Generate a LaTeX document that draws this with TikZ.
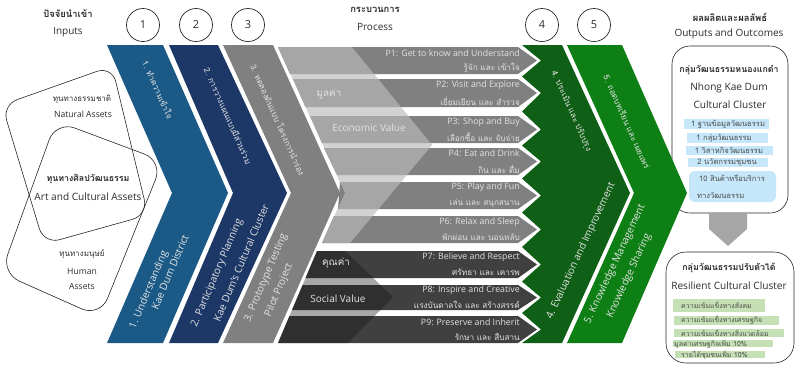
\documentclass[tikz,border=0pt]{standalone}
\usepackage{fontspec}
\setmainfont{Open Sans}[Scale=1]
\newfontfamily\thaif[Script=Thai]{Loma}
\definecolor{cblue}{HTML}{1B5A86}
\definecolor{cnavy}{HTML}{1D3767}
\definecolor{cgray}{HTML}{808080}
\definecolor{cdkgreen}{HTML}{0F5F16}
\definecolor{cgreen}{HTML}{0E7F14}
\definecolor{clabel}{HTML}{2B2B2B}
\definecolor{cpale}{HTML}{E2E2E2}
\definecolor{cbluebox}{HTML}{C6E7FA}
\definecolor{cgreenbox}{HTML}{C5E0B4}
\tikzset{
  outline/.style={draw=black!85,line width=0.6pt,rounded corners=#1},
  head/.style={font=\fontsize{10}{12}\selectfont,text=clabel,inner sep=0pt},
  headth/.style={font=\thaif\fontsize{9.4}{11}\selectfont\bfseries,text=clabel,inner sep=0pt},
  numc/.style={draw=black!85,line width=0.7pt,circle,minimum size=33pt,inner sep=0pt,font=\fontsize{11}{12}\selectfont,text=clabel},
  chevt/.style={font=\fontsize{10.2}{12}\selectfont,text=cpale,inner sep=0pt},
  chevth/.style={font=\thaif\fontsize{8.2}{10}\selectfont,text=cpale,inner sep=0pt},
  pen/.style={font=\fontsize{8.8}{10}\selectfont,text=cpale,anchor=east,inner sep=0pt},
  pth/.style={font=\thaif\fontsize{8.2}{10}\selectfont,text=cpale,anchor=east,inner sep=0pt},
  valen/.style={font=\fontsize{10}{12}\selectfont,text=cpale,inner sep=0pt},
  valth/.style={font=\thaif\fontsize{9.8}{12}\selectfont,text=cpale,inner sep=0pt},
  boxt/.style={font=\thaif\fontsize{7.6}{9}\selectfont,text=black!70,inner sep=0pt},
  boxg/.style={font=\thaif\fontsize{7}{9}\selectfont,text=black!70,inner sep=0pt,anchor=west},
  smen/.style={font=\fontsize{8.6}{10}\selectfont,text=clabel,inner sep=0pt},
  smth/.style={font=\thaif\fontsize{8}{10}\selectfont,text=clabel,inner sep=0pt},
  bigen/.style={font=\fontsize{10.1}{12}\selectfont,text=clabel,inner sep=0pt},
  bigth/.style={font=\thaif\fontsize{8.8}{10}\selectfont\bfseries,text=clabel,inner sep=0pt},
}
\begin{document}
\begin{tikzpicture}[x=1pt,y=-1pt]
\useasboundingbox (0,0) rectangle (795,368);
% --- input shapes
\draw[outline=16pt] (2,105) -- (112,66) -- (148,215) -- (44,244) -- cycle;
\draw[outline=20pt] (56,121) -- (163,161) -- (100,317) -- (1,273) -- cycle;
% --- output boxes (below the green chevron tip)
\draw[outline=18pt,fill=white] (672,46) rectangle (788,213);
\draw[outline=20pt,fill=white] (666,252) rectangle (794,363);
% --- chevrons
\fill[cblue] (107,45) -- (163,45) -- (228,193) -- (163,343) -- (107,343) -- (172,193) -- cycle;
\fill[cnavy] (169,45) -- (218,45) -- (287,193) -- (218,343) -- (169,343) -- (233,193) -- cycle;
\fill[cgray] (223,45) -- (273,45) -- (340,193) -- (273,343) -- (223,343) -- (291,193) -- cycle;
\fill[cdkgreen] (522,45) -- (562,45) -- (630,193) -- (562,343) -- (522,343)
  -- (541,329.5) -- (522,313) -- (541,297.5) -- (522,281.5) -- (541,264.5) -- (522,247)
  -- (541,229.5) -- (522,212.5) -- (541,195.5) -- (522,178.5) -- (541,161.5) -- (522,145.5)
  -- (541,129.5) -- (522,111.5) -- (541,93) -- (522,76.5) -- (541,60.5) -- cycle;
\fill[cgreen] (567,45) -- (622,45) -- (687,193) -- (622,343) -- (567,343) -- (634,193) -- cycle;
% --- process: pale backing of the two value chevrons
\fill[black!25] (278,47) -- (352,47) -- (432,145) -- (350,243) -- (322,243) -- (345,193) -- cycle;
\fill[black!12] (317,251) -- (345,251) -- (393,297) -- (348,343) -- (278,343) -- cycle;
% --- process bars
\foreach \t/\b/\l/\m/\lb/\c in {
  47/74/278/60.5/290/cgray, 79/107/293/93/305.5/cgray, 116/143/310/129.5/322/cgray,
  148/175/324/161.5/337/cgray, 182/209/340/195.5/338/cgray, 216/243/334/229.5/322/cgray,
  251/278/317/264.5/305.5/black!75, 285/310/302.6/297.5/292/black!75, 316/343/289.4/329.5/278/black!75}
  \fill[\c] (\l,\t) -- (518,\t) -- (537,\m) -- (518,\b) -- (\lb,\b) -- cycle;
% --- overlays
\fill[white,opacity=.3] (278,47) -- (352,47) -- (432,145) -- (350,243) -- (322,243) -- (345,193) -- cycle;
\fill[black,opacity=.25] (317,251) -- (345,251) -- (393,297) -- (348,343) -- (278,343) -- cycle;
% --- grey arrow
\fill[black!35] (709,213) -- (747,213) -- (747,229) -- (728,246) -- (709,229) -- cycle;
% --- coloured labels in boxes
\fill[cbluebox] (684,119) rectangle (769,129);
\fill[cbluebox] (687,133) rectangle (768,143);
\fill[cbluebox] (686,146) rectangle (773,155);
\fill[cbluebox] (688,158) rectangle (768,167);
\fill[cbluebox,rounded corners=6pt] (689,171) rectangle (776,202);
\fill[cgreenbox] (673,299) rectangle (765,312);
\fill[cgreenbox] (674,316) rectangle (779,325);
\fill[cgreenbox] (674,329) rectangle (784,337);
\fill[cgreenbox] (673,340) rectangle (773,347);
\fill[cgreenbox] (675,351) rectangle (765,358);
% --- headings
\node[headth] (hInTh) at (68,14) {ปัจจัยนำเข้า};
\node[head] (hIn) at (68,32) {Inputs};
\node[headth] (hPrTh) at (375,10) {กระบวนการ};
\node[head] (hPr) at (375,27) {Process};
\node[headth] (hOutTh) at (730,17) {ผลผลิตและผลลัพธ์};
\node[head] (hOut) at (729,34) {Outputs and Outcomes};
% --- numbers
\node[numc] (n1) at (143,25) {1};
\node[numc] (n2) at (196,25) {2};
\node[numc] (n3) at (248,25) {3};
\node[numc] (n4) at (542,25) {4};
\node[numc] (n5) at (594,25) {5};
% --- inputs text
\node[smth] (a1) at (82,99) {ทุนทางธรรมชาติ};
\node[smen] (a2) at (83,114) {Natural Assets};
\node[bigth] (a3) at (88,179) {ทุนทางศิลปวัฒนธรรม};
\node[bigen] (a4) at (88,197) {Art and Cultural Assets};
\node[smth] (a5) at (82,254) {ทุนทางมนุษย์};
\node[smen] (a6) at (82,271) {Human};
\node[smen] (a7) at (82,286) {Assets};
% --- chevron upper texts
\node[chevth,rotate=-66] (u1) at (158,90) {1. ทำความเข้าใจ};
\node[chevth,rotate=-66] (u2) at (228,116) {2. การวางแผนแบบมีส่วนร่วม};
\node[chevth,rotate=-66] (u3) at (278,120) {3. ทดลองต้นแบบ โครงการนำร่อง};
\node[chevth,rotate=-66] (u4) at (571,111) {4. ประเมิน และ ปรับปรุง};
\node[chevth,rotate=-66] (u5) at (627,122) {5. ถอดบทเรียน และ เผยแพร่};
% --- chevron lower texts
\node[chevt,rotate=67] (l1a) at (149,290) {1. Understanding};
\node[chevt,rotate=67] (l1b) at (170,272) {Kae Dum District};
\node[chevt,rotate=67] (l2a) at (217,273) {2. Participatory Planning};
\node[chevt,rotate=67] (l2b) at (241,263) {Kae Dum's Cultural Cluster};
\node[chevt,rotate=67] (l3a) at (266,278) {3. Prototype Testing};
\node[chevt,rotate=67] (l3b) at (279,290) {Pilot Project};
\node[chevt,rotate=65] (l4) at (581,251) {4. Evaluation and Improvement};
\node[chevt,rotate=65] (l5a) at (615,264) {5. Knowledge Management};
\node[chevt,rotate=65] (l5b) at (629,276) {Knowledge Sharing};
% --- value labels
\node[valth] (v1) at (329,94) {มูลค่า};
\node[valen] (v2) at (369,128) {Economic Value};
\node[valth] (v3) at (336,263) {คุณค่า};
\node[valen] (v4) at (338,299) {Social Value};
% --- process labels
\node[pen] (p1) at (520,53) {P1: Get to know and Understand};
\node[pth] (q1) at (520,68) {รู้จัก และ เข้าใจ};
\node[pen] (p2) at (520,85) {P2: Visit and Explore};
\node[pth] (q2) at (520,101) {เยี่ยมเยียน และ สำรวจ};
\node[pen] (p3) at (520,122) {P3: Shop and Buy};
\node[pth] (q3) at (520,137) {เลือกซื้อ และ จับจ่าย};
\node[pen] (p4) at (520,153) {P4: Eat and Drink};
\node[pth] (q4) at (520,169) {กิน และ ดื่ม};
\node[pen] (p5) at (520,187) {P5: Play and Fun};
\node[pth] (q5) at (520,203) {เล่น และ สนุกสนาน};
\node[pen] (p6) at (520,222) {P6: Relax and Sleep};
\node[pth] (q6) at (520,237) {พักผ่อน และ นอนหลับ};
\node[pen] (p7) at (520,257) {P7: Believe and Respect};
\node[pth] (q7) at (520,272) {ศรัทธา และ เคารพ};
\node[pen] (p8) at (520,290) {P8: Inspire and Creative};
\node[pth] (q8) at (520,305) {แรงบันดาลใจ และ สร้างสรรค์};
\node[pen] (p9) at (520,322) {P9: Preserve and Inherit};
\node[pth] (q9) at (520,337) {รักษา และ สืบสาน};
% --- output text
\node[bigth] (o1) at (729,70) {กลุ่มวัฒนธรรมหนองแกดำ};
\node[bigen] (o2) at (729,88) {Nhong Kae Dum};
\node[bigen] (o3) at (730,105) {Cultural Cluster};
\node[boxt] (b1) at (728,124) {1 ฐานข้อมูลวัฒนธรรม};
\node[boxt] (b2) at (724,138) {1 กลุ่มวัฒนธรรม};
\node[boxt] (b3) at (729,150.5) {1 วิสาหกิจวัฒนธรรม};
\node[boxt] (b4) at (727,162.5) {2 นวัตกรรมชุมชน};
\node[boxt] (b5) at (732,178) {10 สินค้าหรือบริการ};
\node[boxt,anchor=west] (b6) at (697,195) {ทางวัฒนธรรม};
\node[bigth] (r1) at (729,268) {กลุ่มวัฒนธรรมปรับตัวได้};
\node[bigen] (r2) at (729,286) {Resilient Cultural Cluster};
\node[boxg] (g1) at (681,305.5) {ความเข้มแข็งทางสังคม};
\node[boxg] (g2) at (681,320.5) {ความเข้มแข็งทางเศรษฐกิจ};
\node[boxg] (g3) at (681,333) {ความเข้มแข็งทางสิ่งแวดล้อม};
\node[boxg] (g4) at (674,343.5) {มูลค่าเศรษฐกิจเพิ่ม 10\%};
\node[boxg] (g5) at (681,354.5) {รายได้ชุมชนเพิ่ม 10\%};
\end{tikzpicture}
\end{document}
